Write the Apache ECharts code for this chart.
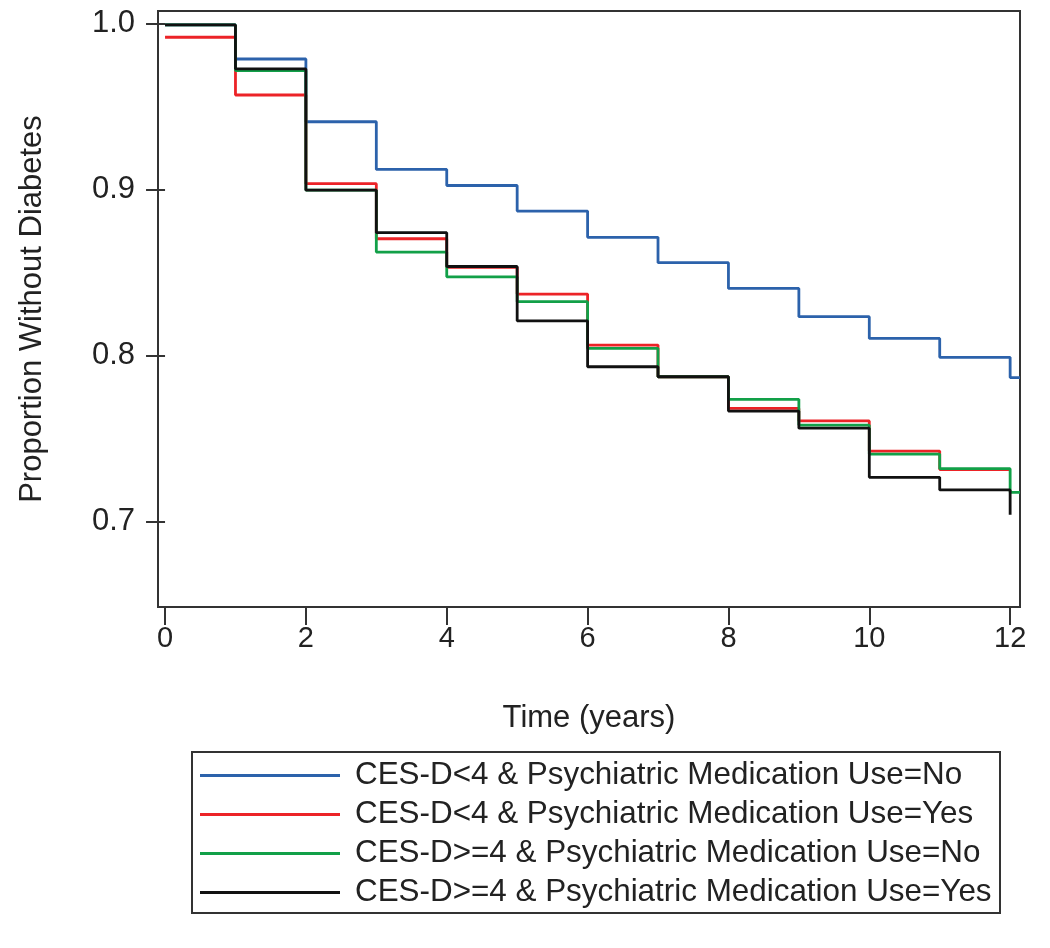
<!DOCTYPE html>
<html>
<head>
<meta charset="utf-8">
<script src="https://cdn.jsdelivr.net/npm/echarts@6/dist/echarts.min.js"></script>
<style>
html,body{margin:0;padding:0;background:#fff;}
#chart{width:1050px;height:948px;}
</style>
</head>
<body>
<div id="chart"></div>
<script>
// ---- data ----
const times = [0, 1, 2, 3, 4, 5, 6, 7, 8, 9, 10, 11, 12];
const followUpEnd = 12.14;
const xTicks = [0, 2, 4, 6, 8, 10, 12];
const yTicks = [0.7, 0.8, 0.9, 1.0];

const seriesNames = [
  'CES-D<4 & Psychiatric Medication Use=No',
  'CES-D<4 & Psychiatric Medication Use=Yes',
  'CES-D>=4 & Psychiatric Medication Use=No',
  'CES-D>=4 & Psychiatric Medication Use=Yes'
];
const cesLowMedNo  = [0.999, 0.9785, 0.9407, 0.912, 0.9023, 0.8869, 0.8711, 0.8558, 0.8403, 0.8233, 0.8102, 0.7988, 0.7866];
const cesLowMedYes = [0.9916, 0.9568, 0.9034, 0.8702, 0.8530, 0.8369, 0.8062, 0.7871, 0.7680, 0.7605, 0.7423, 0.7312, 0.7312];
const cesHighMedNo = [0.999, 0.9715, 0.8995, 0.8622, 0.8473, 0.8323, 0.8042, 0.7871, 0.7735, 0.7580, 0.7405, 0.7317, 0.7175];
const cesHighMedYes= [0.999, 0.9725, 0.8995, 0.8739, 0.8535, 0.8208, 0.7931, 0.7871, 0.7664, 0.7561, 0.7265, 0.7189, 0.7040];
const extendToEnd = [true, false, true, false];

const colors = ['#2c62ab', '#ec2327', '#12a048', '#111111'];
const allValues = [cesLowMedNo, cesLowMedYes, cesHighMedNo, cesHighMedYes];

function buildData(vals, extend) {
  const d = times.map((t, i) => [t, vals[i]]);
  if (extend) d.push([followUpEnd, vals[vals.length - 1]]);
  return d;
}

const FONT = '"Liberation Sans", Arial, Helvetica, sans-serif';

const chart = echarts.init(document.getElementById('chart'), null, {renderer: 'canvas'});
const option = {
  animation: false,
  backgroundColor: '#ffffff',
  grid: {
    left: 158, right: 30, top: 11, bottom: 341,
    show: true, borderColor: '#333333', borderWidth: 2, backgroundColor: 'transparent'
  },
  xAxis: {
    type: 'value',
    min: -0.1, max: followUpEnd,
    name: 'Time (years)',
    nameLocation: 'middle',
    nameGap: 96,
    nameTextStyle: {fontFamily: FONT, fontSize: 31, color: '#222'},
    axisLine: {show: false},
    axisTick: {show: true, customValues: xTicks, length: 18, lineStyle: {color: '#333', width: 2}},
    axisLabel: {customValues: xTicks, fontFamily: FONT, fontSize: 29, color: '#222', margin: 17},
    splitLine: {show: false}
  },
  yAxis: {
    type: 'value',
    min: 0.6484, max: 1.0074,
    name: 'Proportion Without Diabetes',
    nameLocation: 'middle',
    nameGap: 110,
    nameTextStyle: {fontFamily: FONT, fontSize: 31, color: '#222'},
    axisLine: {show: false},
    axisTick: {show: true, customValues: yTicks, length: 19, lineStyle: {color: '#333', width: 2}},
    axisLabel: {customValues: yTicks, fontFamily: FONT, fontSize: 31, color: '#222', margin: 23,
      formatter: v => v.toFixed(1)},
    splitLine: {show: false}
  },
  legend: {
    show: true,
    orient: 'vertical',
    left: 200, top: 760,
    itemWidth: 140, itemHeight: 3,
    itemGap: 8,
    icon: 'rect',
    padding: 0,
    textStyle: {fontFamily: FONT, fontSize: 31.4, color: '#222', lineHeight: 31, padding: [0, 0, 0, 10]},
    data: seriesNames
  },
  graphic: [{
    type: 'rect',
    shape: {x: 192, y: 752, width: 808, height: 161},
    style: {fill: 'none', stroke: '#333', lineWidth: 2},
    silent: true
  }],
  series: allValues.map((vals, i) => ({
    name: seriesNames[i],
    type: 'line',
    step: 'end',
    showSymbol: false,
    symbol: 'none',
    data: buildData(vals, extendToEnd[i]),
    lineStyle: {color: colors[i], width: 2.8},
    itemStyle: {color: colors[i]},
    z: 2 + i
  }))
};
chart.setOption(option);
</script>
</body>
</html>
